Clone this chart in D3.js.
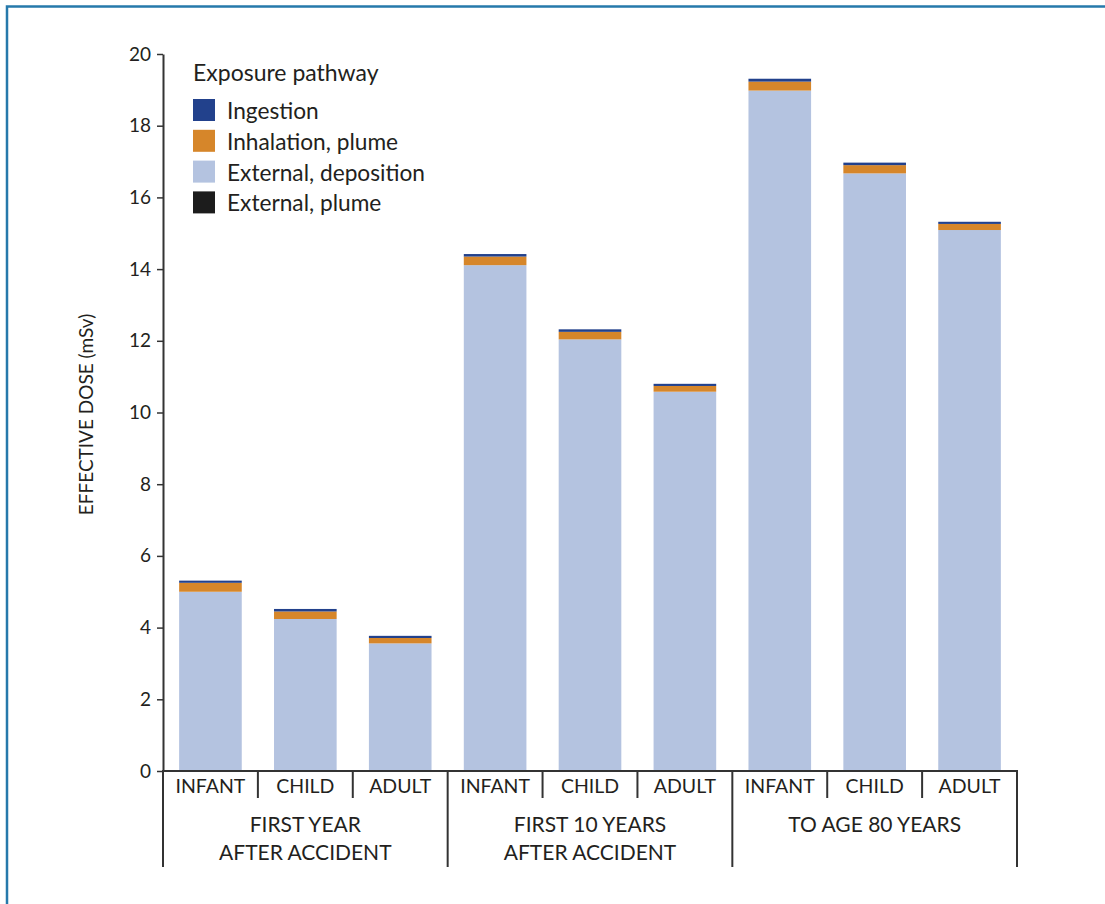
<!DOCTYPE html>
<html>
<head>
<meta charset="utf-8">
<script src="https://cdn.jsdelivr.net/npm/d3@7"></script>
<style>
  html, body { margin: 0; padding: 0; background: #fff; }
  svg { display: block; }
  text { font-family: Lato, "Open Sans", sans-serif; fill: #231f20; }
</style>
</head>
<body>
<svg id="chart" width="1105" height="904"></svg>
<script>
// ---- Data ----
const periods = [["FIRST YEAR", "AFTER ACCIDENT"], ["FIRST 10 YEARS", "AFTER ACCIDENT"], ["TO AGE 80 YEARS"]];
const ages = ["INFANT", "CHILD", "ADULT"];
const pathways = ["External, plume", "External, deposition", "Inhalation, plume", "Ingestion"];
const legendOrder = ["Ingestion", "Inhalation, plume", "External, deposition", "External, plume"];
const externalPlume = [0.01, 0.01, 0.01, 0.01, 0.01, 0.01, 0.01, 0.01, 0.01];
const externalDeposition = [4.99, 4.23, 3.55, 14.10, 12.03, 10.57, 18.97, 16.66, 15.08];
const inhalationPlume = [0.25, 0.21, 0.15, 0.24, 0.21, 0.16, 0.25, 0.23, 0.17];
const ingestion = [0.06, 0.07, 0.06, 0.07, 0.07, 0.06, 0.08, 0.07, 0.06];
const yTicks = [0, 2, 4, 6, 8, 10, 12, 14, 16, 18, 20];
const colors = {
  "Ingestion": "#22418c",
  "Inhalation, plume": "#d6862a",
  "External, deposition": "#b4c3e0",
  "External, plume": "#1c1c1c"
};

// ---- Table ----
const rows = [];
periods.forEach((p, pi) => ages.forEach((a, ai) => {
  const i = pi * 3 + ai;
  rows.push({
    key: pi + "-" + a, period: pi, age: a,
    "External, plume": externalPlume[i],
    "External, deposition": externalDeposition[i],
    "Inhalation, plume": inhalationPlume[i],
    "Ingestion": ingestion[i]
  });
}));

const svg = d3.select("#chart");

// frame
svg.append("path")
  .attr("d", "M7,904 V6.5 H1105")
  .attr("fill", "none").attr("stroke", "#2679ab").attr("stroke-width", 2.5);

const x0 = 163, x1 = 1017, yBase = 771, yTop = 54;
const x = d3.scaleBand().domain(rows.map(d => d.key)).range([x0, x1]).paddingInner(0.34).paddingOuter(0.17);
const y = d3.scaleLinear().domain([0, 20]).range([yBase, yTop]);

// bars
const stack = d3.stack().keys(pathways)(rows);
svg.append("g").selectAll("g").data(stack).join("g")
  .attr("fill", s => colors[s.key])
  .selectAll("rect").data(s => s).join("rect")
  .attr("x", d => x(d.data.key))
  .attr("width", x.bandwidth())
  .attr("y", d => y(d[1]))
  .attr("height", d => y(d[0]) - y(d[1]));

// y axis
const yAxis = svg.append("g").attr("transform", `translate(${x0},0)`)
  .call(d3.axisLeft(y).tickValues(yTicks).tickSize(6).tickPadding(6).tickSizeOuter(0));
yAxis.select(".domain").attr("stroke", "#333").attr("stroke-width", 2);
yAxis.selectAll(".tick line").attr("stroke", "#333").attr("stroke-width", 1.5);
yAxis.selectAll(".tick text").style("font-size", "19px").attr("fill", "#231f20")
  .style("font-family", "Lato, sans-serif");

// y label
svg.append("text")
  .attr("transform", `translate(93,${(yBase + yTop) / 2 + 2}) rotate(-90)`)
  .attr("text-anchor", "middle")
  .style("font-size", "19px")
  .text("EFFECTIVE DOSE (mSv)");

// x axis line
const lineCol = "#333";
svg.append("line").attr("x1", x0).attr("x2", x1).attr("y1", yBase).attr("y2", yBase)
  .attr("stroke", lineCol).attr("stroke-width", 2);

// category labels
rows.forEach((d, i) => {
  const cx = x(d.key) + x.bandwidth() / 2;
  svg.append("text").attr("x", cx).attr("y", yBase + 22).attr("text-anchor", "middle")
    .style("font-size", "19.5px").text(d.age);
});
// short ticks between ages
const groupW = (x1 - x0) / periods.length;
periods.forEach((p, pi) => {
  for (let k = 1; k < 3; k++) {
    const xx = x0 + pi * groupW + k * groupW / 3;
    svg.append("line").attr("x1", xx).attr("x2", xx).attr("y1", yBase).attr("y2", yBase + 27)
      .attr("stroke", lineCol).attr("stroke-width", 2);
  }
  // group labels
  const gx = x0 + pi * groupW + groupW / 2;
  p.forEach((line, li) => {
    svg.append("text").attr("x", gx).attr("y", yBase + 61 + li * 28).attr("text-anchor", "middle")
      .style("font-size", "21px").text(line);
  });
});
for (let pi = 0; pi <= periods.length; pi++) {
  const xx = x0 + pi * groupW;
  svg.append("line").attr("x1", xx).attr("x2", xx).attr("y1", yBase - 1).attr("y2", 867)
    .attr("stroke", lineCol).attr("stroke-width", 2);
}

// legend
const lg = svg.append("g");
lg.append("text").attr("x", 193).attr("y", 81).style("font-size", "23px").text("Exposure pathway");
legendOrder.forEach((k, i) => {
  const yy = 99 + i * 30.8;
  lg.append("rect").attr("x", 193).attr("y", yy).attr("width", 22).attr("height", 22)
    .attr("fill", colors[k]);
  lg.append("text").attr("x", 227).attr("y", yy + 20).style("font-size", "22.7px").text(k);
});
</script>
</body>
</html>
